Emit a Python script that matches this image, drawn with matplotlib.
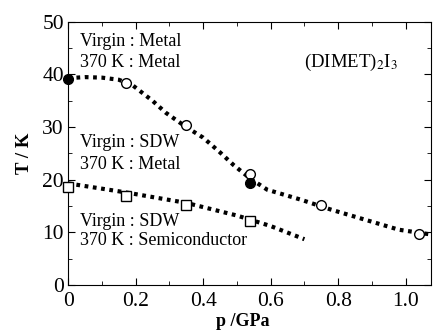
import matplotlib

matplotlib.use("Agg")
import matplotlib.pyplot as plt
from matplotlib.ticker import MultipleLocator

plt.rcParams["font.family"] = ["Liberation Serif", "DejaVu Serif"]
plt.rcParams["mathtext.fontset"] = "stix"

# measured points
metal_open_p = [0.17, 0.35, 0.54, 0.75, 1.04]
metal_open_t = [38.4, 30.4, 21.1, 15.2, 9.6]
metal_fill_p = [0.0, 0.54]
metal_fill_t = [39.2, 19.4]
sdw_p = [0.0, 0.17, 0.35, 0.54]
sdw_t = [18.6, 17.0, 15.2, 12.2]

# guide-to-the-eye curves
upper_p = [0.0, 0.05, 0.1, 0.15, 0.19, 0.25, 0.29, 0.35, 0.40, 0.45, 0.49,
           0.54, 0.59, 0.69, 0.78, 0.88, 0.98, 1.075]
upper_t = [39.3, 39.5, 39.4, 39.0, 38.0, 35.0, 32.7, 30.0, 28.0, 25.2, 22.8,
           20.2, 18.1, 16.2, 14.3, 12.4, 10.5, 9.6]
lower_p = [0.0, 0.17, 0.35, 0.5, 0.6, 0.7]
lower_t = [19.3, 17.6, 15.6, 13.2, 11.2, 8.7]

x_ticks = [0, 0.2, 0.4, 0.6, 0.8, 1.0]
x_ticklabels = ["0", "0.2", "0.4", "0.6", "0.8", "1.0"]

fig = plt.figure(figsize=(4.34, 3.31), dpi=100)
ax = fig.add_axes([0.157, 0.139, 0.836, 0.795])

dot = dict(color="black", lw=3.0, linestyle=(0, (0.9, 1.1)), zorder=1)
ax.plot(upper_p, upper_t, **dot)
ax.plot(lower_p, lower_t, **dot)

ax.plot(metal_open_p, metal_open_t, "o", ms=7, mfc="white", mec="black",
        mew=1.0, zorder=3, clip_on=False)
ax.plot(metal_fill_p, metal_fill_t, "o", ms=7, mfc="black", mec="black",
        zorder=3, clip_on=False)
ax.plot(sdw_p, sdw_t, "s", ms=7, mfc="white", mec="black", mew=1.0,
        zorder=3, clip_on=False)

ax.set_xlim(0, 1.075)
ax.set_ylim(0, 50)
ax.xaxis.set_minor_locator(MultipleLocator(0.1))
ax.yaxis.set_major_locator(MultipleLocator(10))
ax.yaxis.set_minor_locator(MultipleLocator(5))
ax.set_xticks(x_ticks)
ax.set_xticklabels(x_ticklabels)
ax.tick_params(which="both", direction="in", top=True, right=True,
               labelsize=15.5)
ax.tick_params(axis="x", pad=5)
ax.tick_params(axis="y", pad=3)
ax.tick_params(which="major", length=5)
ax.tick_params(which="minor", length=3)

ax.set_ylabel("T / K", fontsize=13.5, fontweight="bold", labelpad=7)
# the reference crops this label at the bottom edge; keep it just inside
fig.text(0.56, 5 / 331, "p /GPa", fontsize=13, fontweight="bold",
         ha="center", va="baseline")

fs = 13
ax.text(0.036, 46.3, "Virgin : Metal", fontsize=fs, va="center")
ax.text(0.036, 42.3, "370 K : Metal", fontsize=fs, va="center")
ax.text(0.036, 27.0, "Virgin : SDW", fontsize=fs, va="center")
ax.text(0.036, 22.8, "370 K : Metal", fontsize=fs, va="center")
ax.text(0.036, 12.0, "Virgin : SDW", fontsize=fs, va="center")
ax.text(0.036, 8.5, "370 K : Semiconductor", fontsize=fs, va="center")
ax.text(0.70, 42.3, r"(DIMET)$_2$I$_3$", fontsize=13.5, va="center")

fig.savefig("out.png", dpi=100)
